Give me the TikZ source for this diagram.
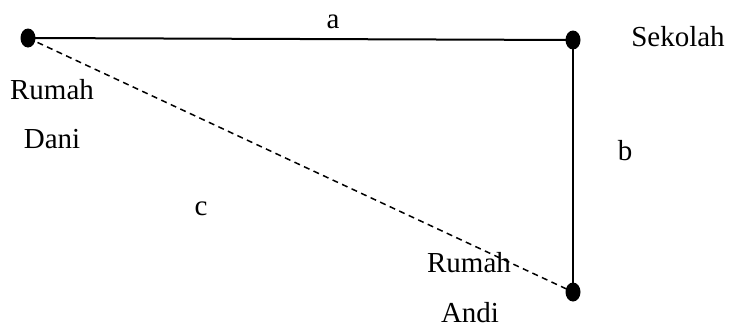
\documentclass[tikz,border=0pt]{standalone}
\usepackage{fontspec}
\setmainfont{Liberation Serif}
\usetikzlibrary{shapes.geometric}
\begin{document}
\begin{tikzpicture}[x=1pt,y=-1pt,
  dot/.style={ellipse,fill=black,minimum width=15pt,minimum height=19pt,inner sep=0pt},
  lbl/.style={anchor=base,inner sep=0pt,font=\fontsize{29}{32}\selectfont},
  solidline/.style={line width=2pt},
  dashline/.style={line width=1.5pt,dash pattern=on 6pt off 4.5pt}]
\useasboundingbox (0,0) rectangle (731,327);
\node[dot] (dani) at (28,38) {};
\node[dot] (sekolah) at (573,40) {};
\node[dot] (andi) at (573,292) {};
\draw[solidline] (dani.center) -- (sekolah.center);
\draw[solidline] (sekolah.center) -- (andi.center);
\draw[dashline] (dani.center) -- (andi.center);
\node[lbl] (la) at (333,28) {a};
\node[lbl] (lsek) at (678,46) {Sekolah};
\node[lbl] (lrd) at (52,99) {Rumah};
\node[lbl] (ldani) at (52,148) {Dani};
\node[lbl] (lb) at (625,160) {b};
\node[lbl] (lc) at (201,215) {c};
\node[lbl] (lra) at (469,272) {Rumah};
\node[lbl] (landi) at (470,322) {Andi};
\end{tikzpicture}
\end{document}
